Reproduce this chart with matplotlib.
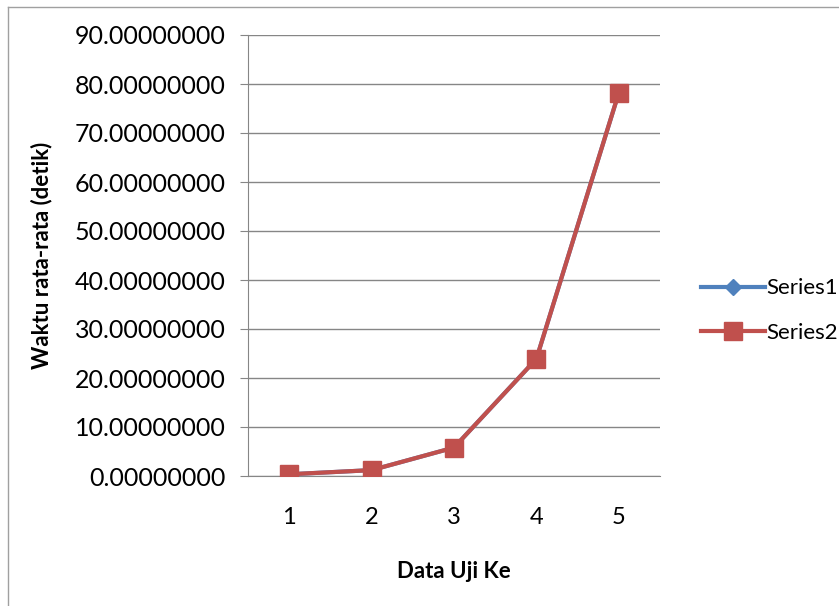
import matplotlib
matplotlib.use("Agg")
import matplotlib.pyplot as plt
from matplotlib.lines import Line2D
from matplotlib.ticker import FormatStrFormatter

# data
categories = ["1", "2", "3", "4", "5"]
series1 = [0.35, 1.2, 5.8, 23.9, 78.2]
series2 = [0.35, 1.2, 5.8, 23.9, 78.2]

FONT = ["Lato", "DejaVu Sans"]
GRID = "#868686"
BLUE = "#4F81BD"
RED = "#C0504D"

plt.rcParams["font.family"] = FONT

fig = plt.figure(figsize=(8.39, 6.06), dpi=100)
ax = fig.add_axes([248 / 839, 1 - 476 / 606, 412 / 839, 441 / 606])

x = range(len(categories))
ax.plot(x, series1, color=BLUE, lw=3, marker="D", ms=8, label="Series1", zorder=3)
ax.plot(x, series2, color=RED, lw=3, marker="s", ms=13, label="Series2", zorder=4)

ax.set_xlim(-0.5, len(categories) - 0.5)
ax.set_ylim(0, 90)
ax.set_yticks(range(0, 91, 10))
ax.yaxis.set_major_formatter(FormatStrFormatter("%.8f"))
ax.set_xticks(list(x))
ax.set_xticklabels(categories)

ax.grid(axis="y", color=GRID, lw=1)
ax.set_axisbelow(True)
for side in ("top", "right"):
    ax.spines[side].set_visible(False)
for side in ("left", "bottom"):
    ax.spines[side].set_color(GRID)
ax.tick_params(axis="y", length=6, color=GRID, labelsize=18, pad=10)
ax.tick_params(axis="x", length=0, labelsize=17, pad=22)

ax.set_ylabel("Waktu rata-rata (detik)", fontsize=16, fontweight="bold", labelpad=16)
ax.set_xlabel("Data Uji Ke", fontsize=16, fontweight="bold", labelpad=24)

ax.legend(loc="center left", bbox_to_anchor=(1.05, 0.375), frameon=False,
          fontsize=16, handlelength=2.9, labelspacing=1.1, handletextpad=0.05)

# chart frame (left and top edges visible)
fig.add_artist(Line2D([8 / 839, 8 / 839], [0, 1 - 7 / 606], color="#a0a0a0", lw=1))
fig.add_artist(Line2D([8 / 839, 1], [1 - 7 / 606, 1 - 7 / 606], color="#a0a0a0", lw=1))

fig.savefig("out.png", dpi=100)
